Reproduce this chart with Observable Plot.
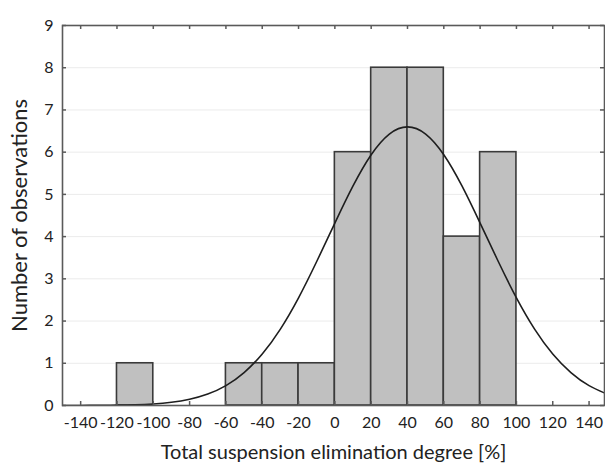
<!DOCTYPE html>
<html><head><meta charset="utf-8">
<script src="https://cdn.jsdelivr.net/npm/d3@7"></script>
<script src="https://cdn.jsdelivr.net/npm/@observablehq/plot@0.6"></script>
<style>body{margin:0;background:#fff;overflow:hidden}</style>
</head><body><div id="chart"></div>
<script>
// Histogram bins
const binStart = [-120, -60, -40, -20, 0, 20, 40, 60, 80];
const binEnd   = [-100, -40, -20,   0, 20, 40, 60, 80, 100];
const counts   = [1, 1, 1, 1, 6, 8, 8, 4, 6];

// Fitted normal curve at steps of 10
const curveX = [-150,-140,-130,-120,-110,-100,-90,-80,-70,-60,-50,-40,-30,-20,-10,0,10,20,30,40,50,60,70,80,90,100,110,120,130,140,150];
const curveY = [0.0005,0.0013,0.003,0.008,0.017,0.037,0.076,0.147,0.27,0.47,0.78,1.22,1.81,2.55,3.41,4.32,5.2,5.94,6.43,6.6,6.43,5.94,5.2,4.32,3.41,2.55,1.81,1.22,0.78,0.47,0.27];

const xTicks = [-140,-120,-100,-80,-60,-40,-20,0,20,40,60,80,100,120,140];
const yTicks = [0,1,2,3,4,5,6,7,8,9];

const xTitle = "Total suspension elimination degree [%]";
const yTitle = "Number of observations";

const bars = binStart.map((s, i) => ({x1: s, x2: binEnd[i], n: counts[i]}));
const curve = curveX.map((x, i) => ({x, y: curveY[i]}));

const W = 605, H = 463, mL = 62, mR = 1, mT = 25, mB = 58;
const pw = W - mL - mR, ph = H - mT - mB;
const tick = 4;

const chart = Plot.plot({
  width: W, height: H,
  marginLeft: mL, marginRight: mR, marginTop: mT, marginBottom: mB,
  style: {fontFamily: "Lato, 'Open Sans', sans-serif", fontSize: "16px", color: "#222", background: "#fff"},
  x: {domain: [-150, 148.5]},
  y: {domain: [0, 9]},
  marks: [
    Plot.ruleY(yTicks.slice(1, -1), {stroke: "#ebebeb", strokeWidth: 1}),
    Plot.rectY(bars, {x1: "x1", x2: "x2", y1: 0, y2: "n", fill: "#c0c0c0", stroke: "#3a3a3a", strokeWidth: 1.6}),
    Plot.line(curve, {x: "x", y: "y", curve: "natural", stroke: "#1e1e1e", strokeWidth: 1.6, clip: true}),
    Plot.frame({stroke: "#5a5a5a", strokeWidth: 1.6}),
    Plot.ruleX(xTicks, {insetTop: ph - tick, stroke: "#5a5a5a", strokeWidth: 1.5}),
    Plot.ruleX(xTicks, {insetBottom: ph - tick, stroke: "#5a5a5a", strokeWidth: 1.5}),
    Plot.ruleY(yTicks, {insetRight: pw - tick, stroke: "#5a5a5a", strokeWidth: 1.5}),
    Plot.ruleY(yTicks, {insetLeft: pw - tick, stroke: "#5a5a5a", strokeWidth: 1.5}),
    Plot.axisX({ticks: xTicks, tickSize: 0, tickPadding: 11, tickFormat: d => String(d), label: null}),
    Plot.axisY({ticks: yTicks, tickSize: 0, tickPadding: 9, tickFormat: d => String(d), label: null}),
    Plot.text([xTitle], {frameAnchor: "bottom", dy: 53, fontSize: 20, fill: "#222"}),
    Plot.text([yTitle], {frameAnchor: "left", dx: -43, rotate: -90, textAnchor: "middle", fontSize: 22, fill: "#222"})
  ]
});
document.getElementById("chart").appendChild(chart);
</script>
</body></html>
